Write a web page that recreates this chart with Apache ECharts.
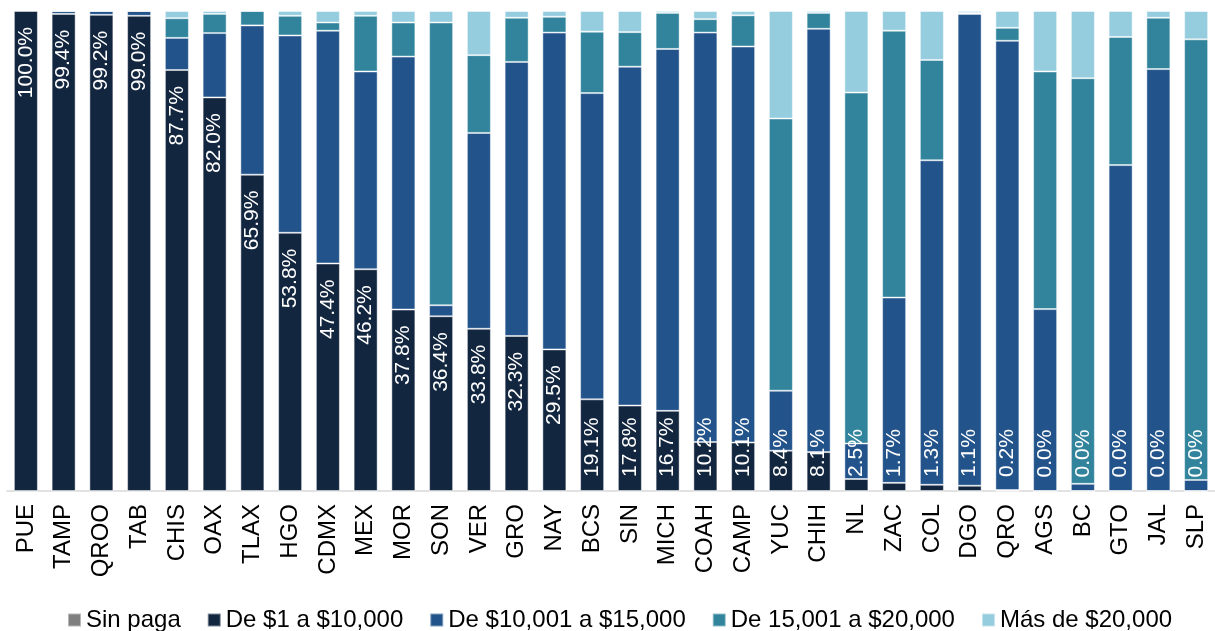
<!DOCTYPE html>
<html>
<head>
<meta charset="utf-8">
<script src="https://cdn.jsdelivr.net/npm/echarts@6/dist/echarts.min.js"></script>
<style>html,body{margin:0;padding:0;background:#fff;}#c{width:1215px;height:631px;}</style>
</head>
<body>
<div id="c"></div>
<script>
const categories = ['PUE','TAMP','QROO','TAB','CHIS','OAX','TLAX','HGO','CDMX','MEX','MOR','SON','VER','GRO','NAY','BCS','SIN','MICH','COAH','CAMP','YUC','CHIH','NL','ZAC','COL','DGO','QRO','AGS','BC','GTO','JAL','SLP'];
const sinPaga  = [0,0,0,0,0,0,0,0,0,0,0,0,0,0,0,0,0,0,0,0,0,0,0,0,0,0,0,0,0,0,0,0];
const hasta10k = [100.0,99.4,99.2,99.0,87.7,82.0,65.9,53.8,47.4,46.2,37.8,36.4,33.8,32.3,29.5,19.1,17.8,16.7,10.2,10.1,8.4,8.1,2.5,1.7,1.3,1.1,0.2,0.0,0.0,0.0,0.0,0.0];
const de10a15k = [0,0.6,0.8,1.0,6.7,13.4,31.1,41.1,48.5,41.2,52.7,2.3,40.8,57.1,66.0,63.8,70.6,75.4,85.3,82.5,12.5,88.2,7.4,38.6,67.6,98.3,93.6,37.9,1.5,67.9,87.9,2.3];
const de15a20k = [0,0,0,0,4.1,4.0,3.0,4.1,1.7,11.6,7.1,58.9,16.2,9.2,3.3,12.8,7.2,7.5,2.8,6.5,56.7,3.3,73.1,55.6,20.9,0.2,2.7,49.5,84.5,26.7,10.7,91.8];
const mas20k   = [0,0,0,0,1.5,0.6,0,1.0,2.4,1.0,2.4,2.4,9.2,1.4,1.2,4.3,4.4,0.4,1.7,0.9,22.4,0.4,17.0,4.1,10.2,0.4,3.5,12.6,14.0,5.4,1.4,5.9];
const seriesNames = ['Sin paga','De $1 a $10,000','De $10,001 a $15,000','De 15,001 a $20,000','Más de $20,000'];
const colors = ['#7f7f7f','#13263f','#22538b','#31849c','#95cddf'];

const chart = echarts.init(document.getElementById('c'), null, {renderer:'canvas'});
const FF = 'Liberation Sans, Arial, sans-serif';

const baseLabel = {show:true, position:['50%', 16], rotate:90, align:'right', verticalAlign:'middle',
  color:'#fff', fontSize:21, fontFamily:FF,
  formatter: p => Number(p.value).toFixed(1) + '%'};
const darkData = hasta10k.map(v => v >= 19.5 ? {value:v}
  : {value:v, label:{position:'insideBottom', align:'left', verticalAlign:'middle', distance:14}});

const border = {borderColor:'rgba(255,255,255,0.45)', borderWidth:1};
function mk(i, data, extra){
  return Object.assign({
    name: seriesNames[i], type:'bar', stack:'t', data: data, barWidth:24,
    itemStyle: Object.assign({color: colors[i]}, border),
    emphasis:{disabled:true}, z:2
  }, extra||{});
}

chart.setOption({
  animation:false,
  color: colors,
  grid:{left:7, right:-10, top:11, bottom:140, containLabel:false},
  xAxis:{type:'category', data:categories,
    axisLine:{show:true, lineStyle:{color:'#d9d9d9', width:1.5}},
    axisTick:{show:false},
    axisLabel:{rotate:90, margin:13, color:'#000', fontSize:24, fontFamily:FF, interval:0}
  },
  yAxis:{type:'value', min:0, max:100, show:false, splitLine:{show:false}},
  legend:{top:603, left:62, itemWidth:13, itemHeight:13, itemGap:26,
    icon:'rect', textStyle:{fontSize:24, color:'#000', fontFamily:FF},
    data: seriesNames},
  series:[
    mk(0, sinPaga),
    mk(1, darkData, {z:3, label: baseLabel}),
    mk(2, de10a15k),
    mk(3, de15a20k),
    mk(4, mas20k)
  ]
});
</script>
</body>
</html>
